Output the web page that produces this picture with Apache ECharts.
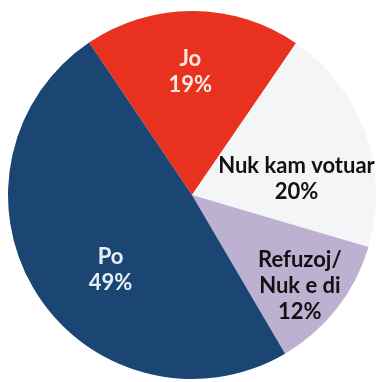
<!DOCTYPE html>
<html>
<head>
<meta charset="utf-8">
<style>
  html, body { margin: 0; padding: 0; background: #ffffff; }
  #chart { width: 380px; height: 382px; }
</style>
<script src="https://cdn.jsdelivr.net/npm/echarts@6/dist/echarts.min.js"></script>
</head>
<body>
<div id="chart"></div>
<script>
// Survey answers and their shares (percent)
const categories = ['Jo', 'Nuk kam votuar', 'Refuzoj/\nNuk e di', 'Po'];
const shares = [19, 20, 12, 49];

// Slice styling, same order as the categories
const sliceColors = ['#e8321f', '#f4f5f7', '#bdb1d2', '#1b4673'];
const labelColors = ['#fbe9e4', '#111111', '#111111', '#e8eef5'];
const labelOffsets = [[-2, -28], [15, 16], [33, 32], [-1, 24]];

const chart = echarts.init(document.getElementById('chart'), null, { renderer: 'canvas' });

const data = categories.map((name, i) => ({
  name: name,
  value: shares[i],
  itemStyle: { color: sliceColors[i] },
  label: { color: labelColors[i], offset: labelOffsets[i] }
}));

chart.setOption({
  animation: false,
  series: [{
    type: 'pie',
    center: [192, 195],
    radius: [0, 184],
    startAngle: 124,
    clockwise: true,
    avoidLabelOverlap: false,
    itemStyle: { borderWidth: 0 },
    label: {
      show: true,
      position: 'inside',
      formatter: p => p.name + '\n' + p.value + '%',
      fontFamily: 'Lato',
      fontWeight: 'bold',
      fontSize: 22,
      lineHeight: 26,
      align: 'center'
    },
    labelLine: { show: false },
    emphasis: { disabled: true },
    data: data
  }]
});
</script>
</body>
</html>
